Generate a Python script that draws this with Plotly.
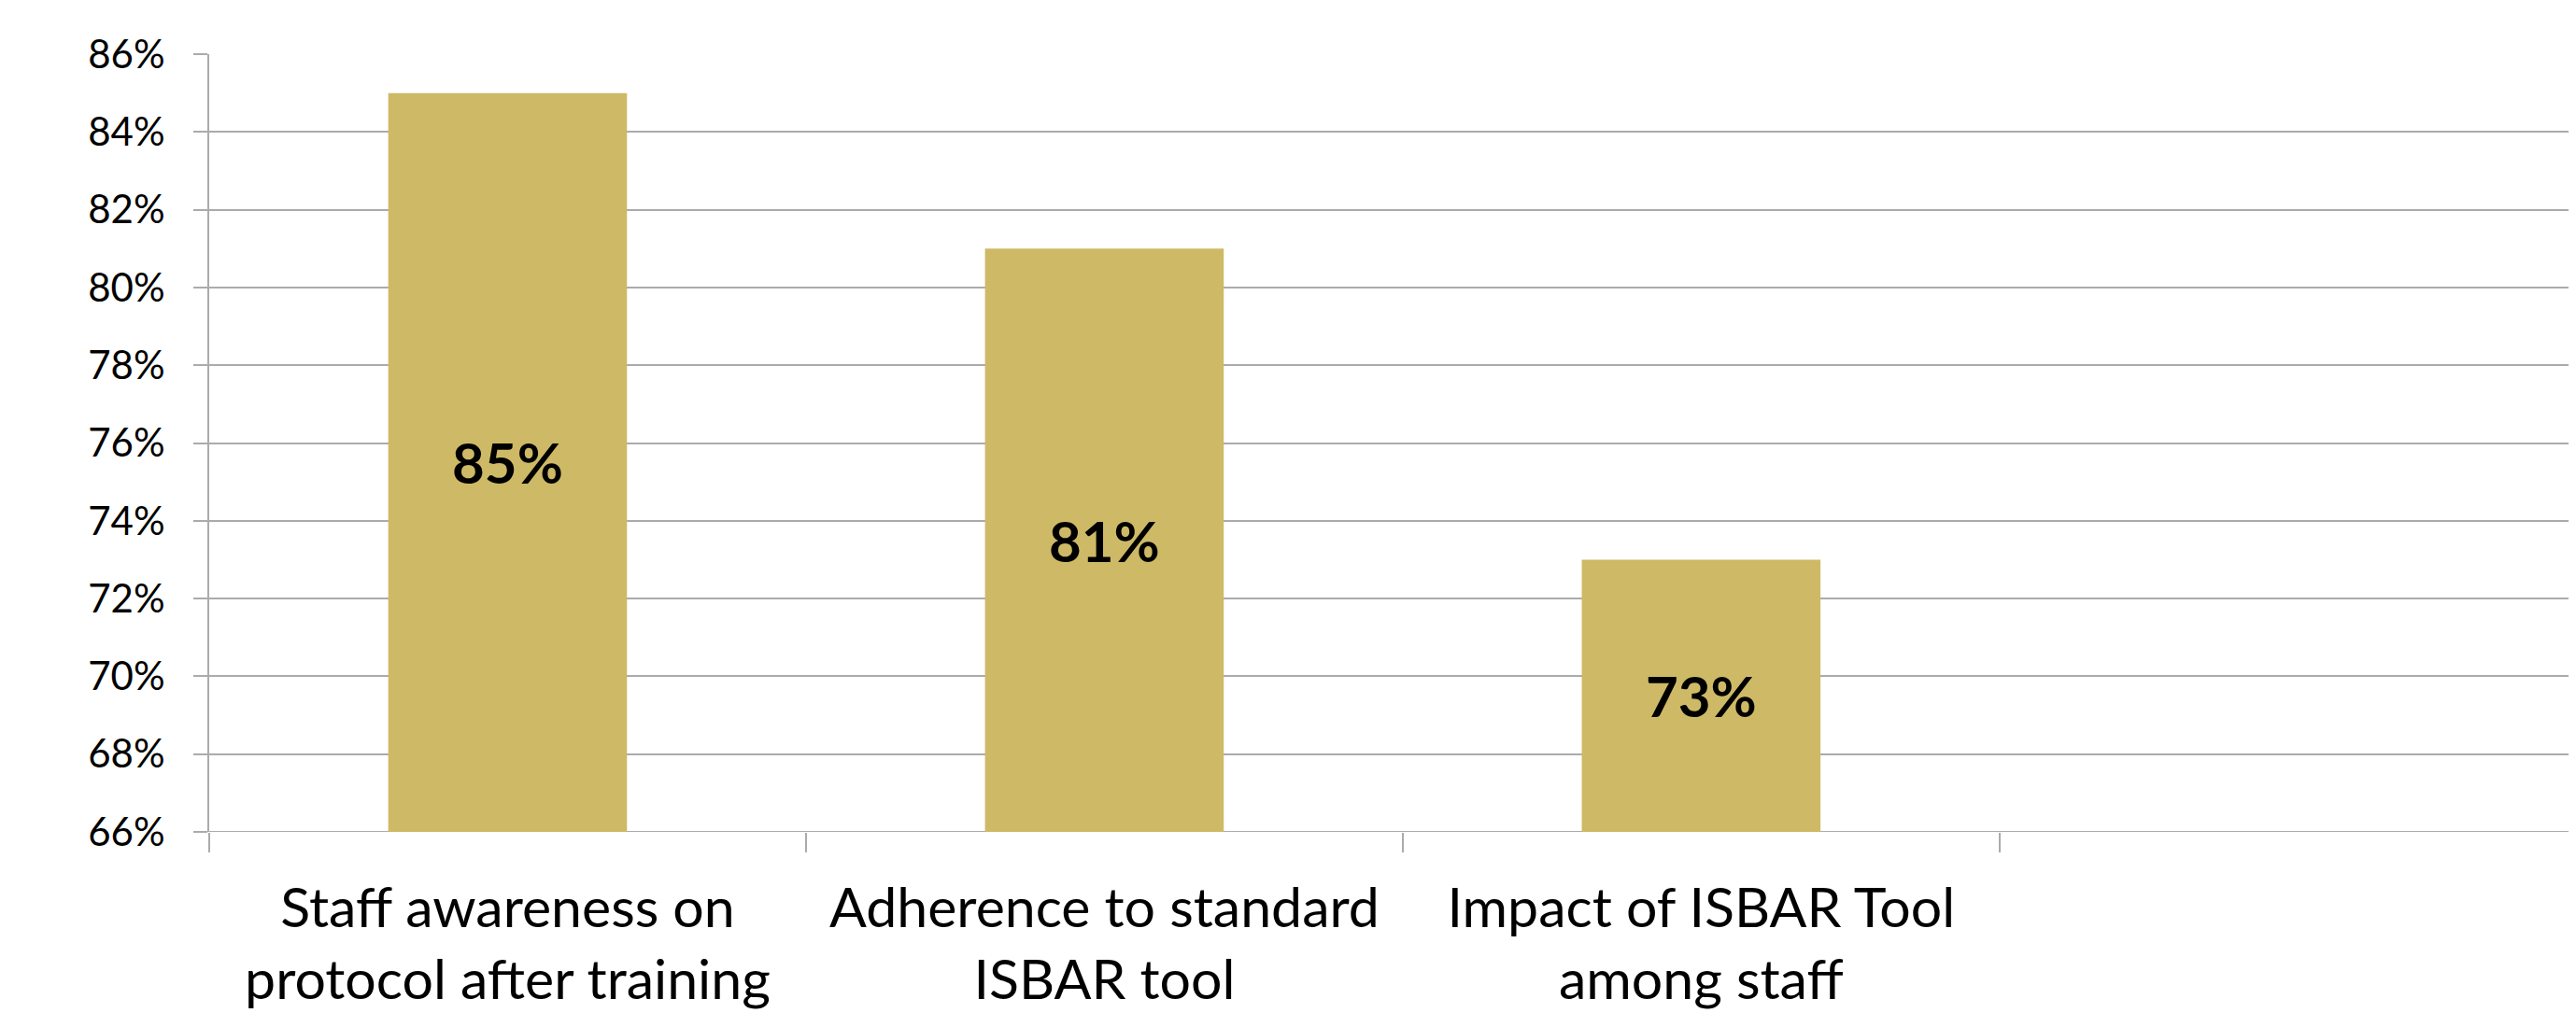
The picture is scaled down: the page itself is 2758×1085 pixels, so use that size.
import plotly.graph_objects as go

categories = ["Staff awareness on<br>protocol after training",
              "Adherence to standard<br>ISBAR tool",
              "Impact of ISBAR Tool<br>among staff",
              ""]
values = [85, 81, 73, None]
labels = ["85%", "81%", "73%", ""]
y_ticks = [66, 68, 70, 72, 74, 76, 78, 80, 82, 84, 86]
y_min, y_max = 66, 86

BAR_COLOR = "#CEB966"
GRID = "#ABABAB"
FONT = "Lato, Carlito, Calibri, sans-serif"

fig = go.Figure(go.Bar(
    x=categories,
    y=[v - y_min if v is not None else None for v in values],
    base=y_min,
    marker=dict(color=BAR_COLOR, line=dict(width=0)),
    text=labels, textposition="inside", insidetextanchor="middle",
    textangle=0, constraintext="none",
    textfont=dict(family=FONT, size=60, color="black", weight="bold"),
    hoverinfo="skip",
))

# page body has an 8px margin, so the figure is slightly smaller than the window
fig.update_layout(
    width=2750, height=1077,
    margin=dict(l=216, r=0, t=50, b=194),
    paper_bgcolor="white", plot_bgcolor="white",
    bargap=0.6, showlegend=False,
    font=dict(family=FONT, color="black"),
)
fig.update_xaxes(
    type="category", range=[-0.5, 3.466], automargin=False,
    showgrid=False, showline=False, zeroline=False,
    ticks="outside", tickson="boundaries", ticklen=21, tickwidth=2,
    tickcolor=GRID, ticklabelstandoff=42,
    tickfont=dict(family=FONT, size=59, color="black"),
)
fig.update_yaxes(
    range=[y_min, y_max], tickvals=y_ticks, ticktext=[f"{t}%" for t in y_ticks],
    automargin=False,
    showgrid=True, gridcolor=GRID, gridwidth=2,
    showline=True, linecolor=GRID, linewidth=2,
    zeroline=False,
    ticks="outside", ticklen=15, tickwidth=2, tickcolor=GRID,
    ticklabelstandoff=22,
    tickfont=dict(family=FONT, size=42, color="black"),
)
fig.add_shape(type="line", xref="paper", yref="y", x0=0, x1=1, y0=y_min, y1=y_min,
              line=dict(color=GRID, width=2), layer="below")

fig.write_html("out.html")
